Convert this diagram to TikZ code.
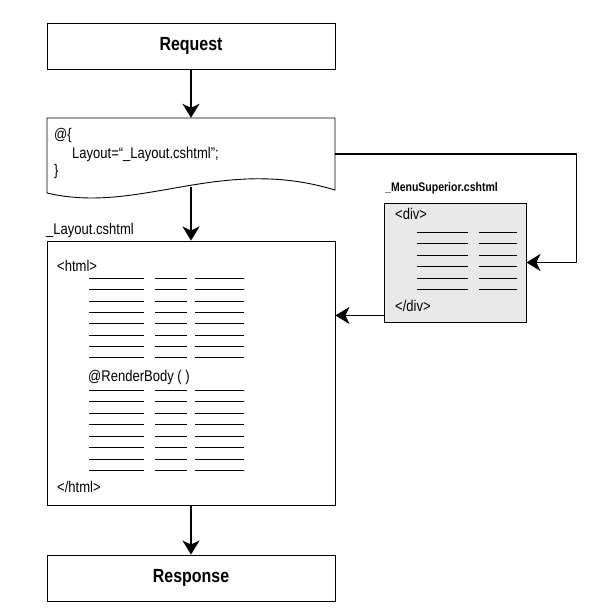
\documentclass[tikz,border=0pt]{standalone}
\usepackage{fontspec}
\setmainfont{Liberation Sans}[FakeStretch=0.84]
\usetikzlibrary{arrows.meta}

\begin{document}
\begin{tikzpicture}[x=1pt,y=-1pt,
    box/.style={draw,line width=0.9pt,rectangle,inner sep=0pt},
    title/.style={font=\fontsize{19}{21}\selectfont\bfseries},
    txt/.style={font=\fontsize{15.5}{17}\selectfont,inner sep=0pt,anchor=west},
    flow/.style={line width=1.6pt,-{Stealth[length=14pt,width=17pt,inset=4pt]}},
    rule/.style={line width=0.7pt}]
  \useasboundingbox (0,0) rectangle (597,616);

  \node[box,title,minimum width=288pt,minimum height=46pt] (request) at (191,46) {Request};

  % codigo del _ViewStart
  \node[rectangle,minimum width=288pt,minimum height=72pt,inner sep=0pt] (viewstart) at (191,154) {};
  \draw[line width=0.9pt] (47,193) -- (47,118) -- (335,118) -- (335,190)
    .. controls (220,155) and (140,215) .. cycle;
  \node[txt] at (54,135) {@\{};
  \node[txt] at (72,154) {Layout=“\_Layout.cshtml”;};
  \node[txt] at (54,171) {\}};
  \coordinate (wave) at (191,187);

  % layout
  \node[txt] at (46,230) {\_Layout.cshtml};
  \node[box,minimum width=288pt,minimum height=264pt] (layout) at (191,373) {};
  \node[txt] at (57,266) {<html>};
  \node[txt] at (88,377) {@RenderBody ( )};
  \node[txt] at (57,487) {</html>};
  \foreach \y in {0,...,7} {
    \draw[rule] (89,278.3+11.35*\y) -- (144,278.3+11.35*\y);
    \draw[rule] (155,278.3+11.35*\y) -- (187,278.3+11.35*\y);
    \draw[rule] (195,278.3+11.35*\y) -- (244,278.3+11.35*\y);
    \draw[rule] (89,390+11.5*\y) -- (144,390+11.5*\y);
    \draw[rule] (155,390+11.5*\y) -- (187,390+11.5*\y);
    \draw[rule] (195,390+11.5*\y) -- (244,390+11.5*\y);
  }

  % vista parcial
  \node[txt,font=\fontsize{12.5}{14}\selectfont\bfseries] at (385,188) {\_MenuSuperior.cshtml};
  \node[box,fill=gray!17,minimum width=142pt,minimum height=119pt] (menu) at (455,262.5) {};
  \node[txt] at (395,214) {<div>};
  \node[txt] at (395,306) {</div>};
  \foreach \y in {0,...,5} {
    \draw[rule] (417,232.3+11.4*\y) -- (468,232.3+11.4*\y);
    \draw[rule] (479,232.3+11.4*\y) -- (517,232.3+11.4*\y);
  }

  \node[box,title,minimum width=288pt,minimum height=46pt] (response) at (191,578) {Response};

  \draw[flow] (request) -- (viewstart.north);
  \draw[flow] (wave) -- (layout.north);
  \draw[flow] (layout) -- (response);
  \draw[flow] (viewstart.east) -| ([xshift=50pt]menu.east) -- (menu.east);
  \coordinate (partial) at ([yshift=7pt]menu.south west);
  \draw[flow] (partial) -- (partial -| layout.east);
\end{tikzpicture}
\end{document}
